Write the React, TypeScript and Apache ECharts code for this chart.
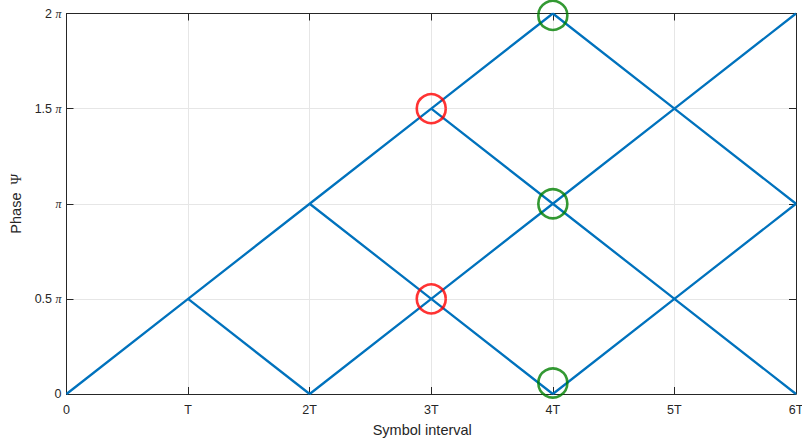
import React, { useEffect, useRef } from "react";
import * as echarts from "echarts";

// Phase values in units of π, time in units of T
const xTickLabels = ["0", "T", "2T", "3T", "4T", "5T", "6T"];
const yTickLabels: Record<string, string> = { "0": "0", "0.5": "0.5", "1": "", "1.5": "1.5", "2": "2" };

const pathA = [[0, 0], [1, 0.5], [2, 1], [3, 1.5], [4, 2]];
const pathB = [[1, 0.5], [2, 0]];
const pathC = [[2, 0], [3, 0.5], [4, 1], [5, 1.5], [6, 2]];
const pathD = [[2, 1], [3, 0.5], [4, 0]];
const pathE = [[4, 0], [5, 0.5], [6, 1]];
const pathF = [[3, 1.5], [4, 1], [5, 0.5], [6, 0]];
const pathG = [[4, 2], [5, 1.5], [6, 1]];
const paths = [pathA, pathB, pathC, pathD, pathE, pathF, pathG];

const redMarks = [[3, 1.5], [3, 0.5]];
const greenMarks = [[4, 1.99], [4, 1], [4, 0.058]];

const BLUE = "#0072BD";
const AXIS = "#262626";
const GRID = "#e6e6e6";

export default function App() {
  const ref = useRef<HTMLDivElement>(null);
  useEffect(() => {
    if (!ref.current) return;
    const chart = echarts.init(ref.current, null, { renderer: "svg" });
    const lineSeries = paths.map((p) => ({
      type: "line",
      data: p,
      showSymbol: false,
      symbol: "none",
      lineStyle: { color: BLUE, width: 2.3 },
      z: 2,
    }));
    chart.setOption({
      animation: false,
      backgroundColor: "#ffffff",
      grid: {
        left: 66.5,
        right: 6,
        top: 13.5,
        bottom: 51,
        containLabel: false,
        outerBoundsMode: "none",
      },
      xAxis: [
        {
          type: "value",
          min: 0,
          max: 6,
          interval: 1,
          position: "bottom",
          name: "Symbol interval",
          nameLocation: "middle",
          nameGap: 28,
          nameTextStyle: { color: AXIS, fontSize: 14.5, fontFamily: "Liberation Sans", padding: [0, 18, 0, 0] },
          axisLine: { show: true, onZero: false, lineStyle: { color: AXIS, width: 1 } },
          axisTick: { show: true, inside: true, length: 7, lineStyle: { color: AXIS } },
          axisLabel: {
            color: AXIS,
            fontSize: 12.5,
            fontFamily: "Liberation Sans",
            margin: 9,
            formatter: (v: number) => xTickLabels[Math.round(v)] ?? "",
          },
          splitLine: { show: true, lineStyle: { color: GRID, width: 1 } },
        },
        {
          type: "value",
          min: 0,
          max: 6,
          interval: 1,
          position: "top",
          axisLine: { show: true, onZero: false, lineStyle: { color: AXIS, width: 1 } },
          axisTick: { show: true, inside: true, length: 7, lineStyle: { color: AXIS } },
          axisLabel: { show: false },
          splitLine: { show: false },
        },
      ],
      yAxis: [
        {
          type: "value",
          min: 0,
          max: 2,
          interval: 0.5,
          position: "left",
          name: "Phase  {s|\u03A8}",
          nameLocation: "middle",
          nameGap: 43,
          nameRotate: 90,
          nameTextStyle: {
            color: AXIS,
            fontSize: 14.5,
            fontFamily: "Liberation Sans",
            rich: { s: { fontFamily: "Liberation Serif", fontSize: 14.5, color: AXIS } },
          },
          axisLine: { show: true, onZero: false, lineStyle: { color: AXIS, width: 1 } },
          axisTick: { show: true, inside: true, length: 7, lineStyle: { color: AXIS } },
          axisLabel: {
            color: AXIS,
            fontSize: 12.5,
            fontFamily: "Liberation Sans",
            margin: 5,
            formatter: (v: number) => {
              const key = String(v);
              if (v === 0) return "0";
              const num = yTickLabels[key] ?? "";
              return num ? `${num} {p|\u03C0}` : `{p|\u03C0}`;
            },
            rich: {
              p: { fontFamily: "Liberation Serif", fontStyle: "italic", fontSize: 12, color: AXIS },
            },
          },
          splitLine: { show: true, lineStyle: { color: GRID, width: 1 } },
        },
        {
          type: "value",
          min: 0,
          max: 2,
          interval: 0.5,
          position: "right",
          axisLine: { show: true, onZero: false, lineStyle: { color: AXIS, width: 1 } },
          axisTick: { show: true, inside: true, length: 7, lineStyle: { color: AXIS } },
          axisLabel: { show: false },
          splitLine: { show: false },
        },
      ],
      series: [
        ...lineSeries,
        {
          type: "scatter",
          data: redMarks,
          symbol: "circle",
          symbolSize: 29,
          itemStyle: { color: "transparent", borderColor: "#ff0000", borderWidth: 2.6 },
          z: 5,
        },
        {
          type: "scatter",
          data: greenMarks,
          symbol: "circle",
          symbolSize: 29,
          itemStyle: { color: "transparent", borderColor: "#008000", borderWidth: 2.6 },
          z: 5,
        },
      ],
    });
    return () => chart.dispose();
  }, []);
  return (
    <div
      ref={ref}
      style={{ position: "fixed", left: 0, top: 0, width: 802, height: 445, background: "#fff" }}
    />
  );
}
